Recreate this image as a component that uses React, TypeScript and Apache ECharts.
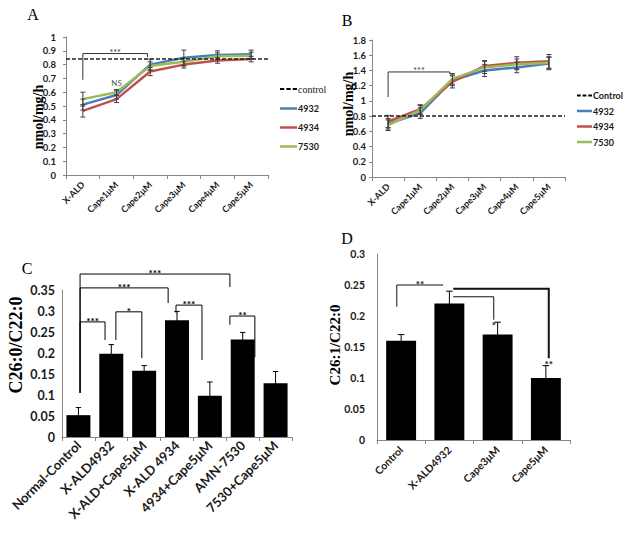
import React, { useEffect, useRef } from 'react';
import * as echarts from 'echarts';

// ---------- data ----------
const catsAB = ['X-ALD', 'Cape1μM', 'Cape2μM', 'Cape3μM', 'Cape4μM', 'Cape5μM'];

const a4932 = [0.51, 0.58, 0.8, 0.85, 0.87, 0.875];
const a4934 = [0.465, 0.55, 0.75, 0.8, 0.83, 0.84];
const a7530 = [0.55, 0.6, 0.79, 0.82, 0.86, 0.865];
const errA4932 = [0.04, 0.03, 0.04, 0.055, 0.03, 0.03];
const errA4934 = [0.045, 0.025, 0.03, 0.025, 0.02, 0.02];
const errA7530 = [0.05, 0.02, 0.03, 0.03, 0.025, 0.025];
const controlA = 0.837;

const b4932 = [0.7, 0.84, 1.27, 1.4, 1.44, 1.49];
const b4934 = [0.73, 0.89, 1.25, 1.46, 1.5, 1.52];
const b7530 = [0.68, 0.88, 1.29, 1.44, 1.48, 1.5];
const errB4932 = [0.07, 0.07, 0.07, 0.08, 0.07, 0.08];
const errB4934 = [0.08, 0.06, 0.08, 0.07, 0.08, 0.09];
const errB7530 = [0.07, 0.06, 0.07, 0.08, 0.07, 0.08];
const controlB = 0.81;

const catsC = ['Normal-Control', 'X-ALD4932', 'X-ALD+Cape5μM', 'X-ALD 4934', '4934+Cape5μM', 'AMN-7530', '7530+Cape5μM'];
const valsC = [0.052, 0.198, 0.158, 0.278, 0.098, 0.232, 0.128];
const errC = [0.018, 0.022, 0.012, 0.021, 0.033, 0.017, 0.028];

const catsD = ['Control', 'X-ALD4932', 'Cape3μM', 'Cape5μM'];
const valsD = [0.16, 0.22, 0.17, 0.1];
const errD = [0.01, 0.02, 0.02, 0.02];

// significance brackets in data coords: [x1, x2, top, leftEnd, rightEnd, label, lineWidth]
const bracketsA: any[] = [[0, 1.92, 0.88, 0.69, 0.855, '***', 1]];
const notesA: any[] = [[1, 0.665, 'NS']];
const bracketsB: any[] = [[0, 1.92, 1.38, 1.05, 1.35, '***', 1]];
const bracketsC: any[] = [
  [0.05, 4.61, 0.388, 0.105, 0.357, '***', 1],
  [0.05, 2.73, 0.355, 0.105, 0.319, '***', 1],
  [0.05, 0.81, 0.274, 0.105, 0.231, '***', 1],
  [1.14, 1.93, 0.298, 0.231, 0.188, '*', 1],
  [2.97, 3.76, 0.314, 0.296, 0.183, '***', 1],
  [4.61, 5.37, 0.288, 0.267, 0.19, '**', 1],
];
const bracketsD: any[] = [
  [-0.09, 0.87, 0.25, 0.215, 0.25, '**', 1],
  [1.08, 1.92, 0.231, 0.231, 0.194, '', 1],
  [1.08, 3.06, 0.244, 0.244, 0.132, '', 2],
];
const notesD: any[] = [[1.92, 0.186, '*'], [3.06, 0.123, '**']];

// ---------- styling ----------
const BLUE = '#4A7EBB';
const RED = '#C0504D';
const GREEN = '#9BBB59';
const AXIS = '#868686';
const SANS = 'Lato';
const SERIF = 'Liberation Serif';
const DASH_ICON = 'path://M0,0h4v2h-4z M6,0h4v2h-4z M12,0h4v2h-4z';

function xAx(gi: number, cats: string[], fs: number, margin: number) {
  return {
    type: 'category', gridIndex: gi, data: cats, boundaryGap: true,
    axisLine: { show: true, lineStyle: { color: AXIS } },
    axisTick: { show: true, length: 4, interval: 0, lineStyle: { color: AXIS } },
    axisLabel: { interval: 0, rotate: 45, fontSize: fs, fontWeight: 'bold', fontFamily: SANS, color: '#1a1a1a', margin },
    splitLine: { show: false },
  };
}
function yAx(gi: number, max: number, interval: number, fs: number, margin: number, ticks: boolean) {
  return {
    type: 'value', gridIndex: gi, min: 0, max, interval,
    axisLine: { show: true, lineStyle: { color: AXIS } },
    axisTick: { show: ticks, length: 3, lineStyle: { color: AXIS } },
    axisLabel: { fontSize: fs, fontWeight: 'bold', fontFamily: SANS, color: '#1a1a1a', margin },
    splitLine: { show: false },
  };
}
function lineS(gi: number, name: string, data: number[], color: string) {
  return {
    type: 'line', name, xAxisIndex: gi, yAxisIndex: gi, data, symbol: 'none',
    lineStyle: { color, width: 2.5 }, itemStyle: { color }, z: 3,
  };
}
function controlS(gi: number, name: string, value: number) {
  return {
    type: 'line', name, xAxisIndex: gi, yAxisIndex: gi, data: [], symbol: 'none',
    lineStyle: { color: '#000', type: [4, 2], width: 1.5 }, itemStyle: { color: '#000' },
    markLine: {
      silent: true, symbol: 'none', label: { show: false },
      lineStyle: { color: '#222', type: [4, 2], width: 1.5 },
      data: [{ yAxis: value }],
    },
  };
}
function errS(gi: number, vals: number[], errs: number[], color: string, cap: number, z: number) {
  return {
    type: 'custom', xAxisIndex: gi, yAxisIndex: gi, silent: true, z,
    data: vals.map((v, i) => [i, v - errs[i], v + errs[i]]),
    renderItem: (params: any, api: any) => {
      const x = api.value(0);
      const lo = api.coord([x, api.value(1)]);
      const hi = api.coord([x, api.value(2)]);
      const st = { stroke: color, lineWidth: 1 };
      return {
        type: 'group',
        children: [
          { type: 'line', shape: { x1: lo[0], y1: lo[1], x2: hi[0], y2: hi[1] }, style: st },
          { type: 'line', shape: { x1: lo[0] - cap, y1: lo[1], x2: lo[0] + cap, y2: lo[1] }, style: st },
          { type: 'line', shape: { x1: hi[0] - cap, y1: hi[1], x2: hi[0] + cap, y2: hi[1] }, style: st },
        ],
      };
    },
  };
}

function legendItems(names: string[], controlText: any) {
  return names.map((n, i) =>
    i === 0 ? { name: n, icon: DASH_ICON, textStyle: controlText } : { name: n, icon: 'rect' }
  );
}

function buildOption() {
  const legText = { fontFamily: SANS, fontWeight: 'bold', fontSize: 9, color: '#1a1a1a', padding: [0, 0, 0, -4] };
  return {
    animation: false,
    backgroundColor: '#fff',
    grid: [
      { left: 66, top: 37, width: 202, height: 138 },
      { left: 372, top: 40, width: 193, height: 137 },
      { left: 62, top: 290, width: 230, height: 147 },
      { left: 377, top: 254, width: 193, height: 186 },
    ],
    xAxis: [
      xAx(0, catsAB, 9, 8),
      xAx(1, catsAB, 9, 8),
      xAx(2, catsC, 13, 6),
      xAx(3, catsD, 10.5, 8),
    ],
    yAxis: [
      yAx(0, 1, 0.1, 9.5, 10, true),
      yAx(1, 1.8, 0.2, 9.5, 6, true),
      yAx(2, 0.35, 0.05, 12.5, 7, false),
      yAx(3, 0.3, 0.05, 10.5, 12, false),
    ],
    legend: [
      {
        orient: 'vertical', left: 280, top: 84, padding: 0, itemWidth: 17, itemHeight: 2.5, itemGap: 10,
        textStyle: legText,
        data: legendItems(['control', '4932', '4934', '7530'], { fontFamily: SERIF, fontWeight: 'normal', fontSize: 10 }),
      },
      {
        orient: 'vertical', left: 577, top: 91, padding: 0, itemWidth: 15, itemHeight: 2.5, itemGap: 6.5,
        textStyle: legText,
        data: legendItems(['Control', '4932', '4934', '7530'], {}),
      },
    ],
    series: [
      controlS(0, 'control', controlA),
      lineS(0, '4932', a4932, BLUE),
      lineS(0, '4934', a4934, RED),
      lineS(0, '7530', a7530, GREEN),
      errS(0, a4932, errA4932, '#404040', 2.5, 4),
      errS(0, a4934, errA4934, '#404040', 2.5, 4),
      errS(0, a7530, errA7530, '#404040', 2.5, 4),

      controlS(1, 'Control', controlB),
      lineS(1, '4932', b4932, BLUE),
      lineS(1, '4934', b4934, RED),
      lineS(1, '7530', b7530, GREEN),
      errS(1, b4932, errB4932, '#404040', 2.5, 4),
      errS(1, b4934, errB4934, '#404040', 2.5, 4),
      errS(1, b7530, errB7530, '#404040', 2.5, 4),

      {
        type: 'bar', xAxisIndex: 2, yAxisIndex: 2, data: valsC, barCategoryGap: '27%',
        itemStyle: { color: '#000' },
      },
      errS(2, valsC, errC, '#000', 2.7, 4),
      {
        type: 'bar', xAxisIndex: 3, yAxisIndex: 3, data: valsD, barCategoryGap: '38%',
        itemStyle: { color: '#000' },
      },
      errS(3, valsD, errD, '#000', 3.3, 4),
    ],
  };
}

function buildGraphics(chart: any) {
  const px = (g: number, i: number) => {
    const p0 = chart.convertToPixel({ xAxisIndex: g }, 0);
    const p1 = chart.convertToPixel({ xAxisIndex: g }, 1);
    return p0 + (p1 - p0) * i;
  };
  const py = (g: number, v: number) => chart.convertToPixel({ yAxisIndex: g }, v);
  const els: any[] = [];

  const txt = (x: number, y: number, text: string, font: string, fill = '#000', rot = 0) => ({
    type: 'text', x, y, rotation: rot, silent: true,
    style: { text, font, fill, align: 'center', verticalAlign: 'middle' },
  });

  // panel letters
  els.push(txt(33, 14, 'A', `16px "${SERIF}"`));
  els.push(txt(347, 20, 'B', `16px "${SERIF}"`));
  els.push(txt(27, 268, 'C', `16px "${SERIF}"`));
  els.push(txt(347, 238, 'D', `16px "${SERIF}"`));

  // axis names
  els.push(txt(38, 117, 'nmol/mg/h', `bold 14px "${SERIF}"`, '#000', Math.PI / 2));
  els.push(txt(348, 104, 'nmol/mg/h', `bold 14px "${SERIF}"`, '#000', Math.PI / 2));
  els.push(txt(16, 345, 'C26:0/C22:0', `bold 18px "${SERIF}"`, '#000', Math.PI / 2));
  els.push(txt(335, 345, 'C26:1/C22:0', `bold 15px "${SERIF}"`, '#000', Math.PI / 2));

  const addBrackets = (g: number, list: any[], color: string, font: string) => {
    list.forEach(([x1, x2, top, l, r, label, w]) => {
      const X1 = px(g, x1), X2 = px(g, x2), T = py(g, top), L = py(g, l), R = py(g, r);
      els.push({
        type: 'polyline', silent: true,
        shape: { points: [[X1, L], [X1, T], [X2, T], [X2, R]] },
        style: { stroke: color, lineWidth: w, fill: null },
      });
      if (label) els.push(txt((X1 + X2) / 2, T - 1, label, font, color));
    });
  };
  const addNotes = (g: number, list: any[], font: string, fill: string) => {
    list.forEach(([x, v, label]) => els.push(txt(px(g, x), py(g, v), label, font, fill)));
  };

  addBrackets(0, bracketsA, '#333', `9px "${SANS}"`);
  addNotes(0, notesA, `8px "${SANS}"`, '#555');
  addBrackets(1, bracketsB, '#333', `9px "${SANS}"`);
  addBrackets(2, bracketsC, '#000', `bold 10px "${SANS}"`);
  addBrackets(3, bracketsD, '#111', `bold 10px "${SANS}"`);
  addNotes(3, notesD, `bold 10px "${SANS}"`, '#111');

  return els;
}

export default function App() {
  const ref = useRef<HTMLDivElement>(null);
  useEffect(() => {
    const chart = echarts.init(ref.current!, null, { renderer: 'svg' });
    chart.setOption(buildOption() as any);
    chart.setOption({ graphic: buildGraphics(chart) } as any);
    return () => chart.dispose();
  }, []);
  return (
    <div
      ref={ref}
      style={{ position: 'absolute', left: 0, top: 0, width: 629, height: 538, background: '#fff' }}
    />
  );
}
